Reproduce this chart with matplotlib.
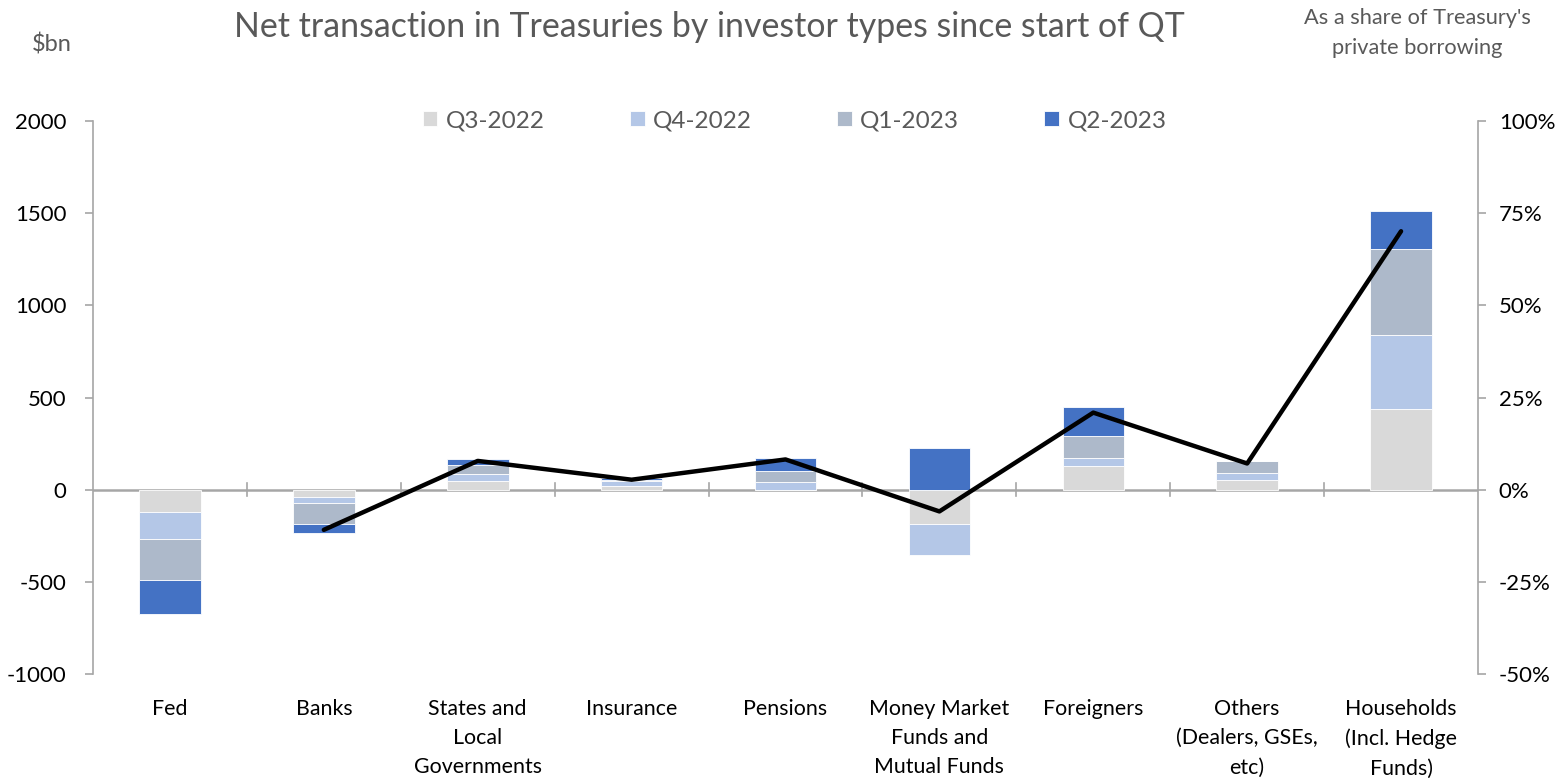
import matplotlib
matplotlib.use("Agg")
import matplotlib.pyplot as plt
import numpy as np

categories = ["Fed", "Banks", "States and\nLocal\nGovernments", "Insurance", "Pensions",
              "Money Market\nFunds and\nMutual Funds", "Foreigners",
              "Others\n(Dealers, GSEs,\netc)", "Households\n(Incl. Hedge\nFunds)"]
series_names = ["Q3-2022", "Q4-2022", "Q1-2023", "Q2-2023"]
q3_2022 = [-120, -38, 47, 18, 0, -188, 127, 54, 440]
q4_2022 = [-145, -36, 36, 29, 42, -167, 47, 34, 398]
q1_2023 = [-226, -112, 50, 7, 60, 0, 116, 65, 465]
q2_2023 = [-181, -51, 31, 7, 72, 226, 159, 0, 210]
share_pct = [np.nan, -10.9, 7.8, 2.7, 8.2, -5.9, 20.9, 7.1, 70.1]
left_ticks = [-1000, -500, 0, 500, 1000, 1500, 2000]
right_ticks = [-50, -25, 0, 25, 50, 75, 100]

colors = ["#D9D9D9", "#B4C7E7", "#ADB9CA", "#4472C4"]
FONT = "Lato"
plt.rcParams['font.family'] = [FONT, 'DejaVu Sans']

fig = plt.figure(figsize=(15.62, 7.78), dpi=100)
ax = fig.add_axes([93/1562, 1-674/778, (1478-93)/1562, (674-121)/778])
x = np.arange(len(categories))
pos_base = np.zeros(len(categories))
neg_base = np.zeros(len(categories))
for name, vals, c in zip(series_names, [q3_2022, q4_2022, q1_2023, q2_2023], colors):
    v = np.array(vals, dtype=float)
    bottoms = np.where(v >= 0, pos_base, neg_base)
    ax.bar(x, v, 0.4, bottom=bottoms, color=c, label=name, edgecolor="white", linewidth=0.6, zorder=2)
    pos_base += np.where(v > 0, v, 0)
    neg_base += np.where(v < 0, v, 0)

ax.set_xlim(-0.5, len(categories) - 0.5)
ax.set_ylim(-1000, 2000)
ax.set_yticks(left_ticks)
ax.set_yticklabels([str(t) for t in left_ticks], fontsize=16)
for s in ["top", "right", "bottom"]:
    ax.spines[s].set_visible(False)
ax.spines["left"].set_color("#A6A6A6")
ax.spines["left"].set_linewidth(1.2)
ax.tick_params(axis="y", colors="#A6A6A6", labelcolor="black", length=6, width=1.2, pad=13)
ax.set_xticks([])
ax.axhline(0, color="#A6A6A6", lw=1.8, zorder=1)
for b in np.arange(0.5, len(categories) - 0.5, 1.0):
    ax.plot([b, b], [-35, 35], color="#A6A6A6", lw=1.2, zorder=1)
for i, lab in enumerate(categories):
    ax.text(x[i], -1135, lab, ha="center", va="top", fontsize=15.4, linespacing=1.58)

ax2 = ax.twinx()
ax2.set_ylim(-50, 100)
ax2.plot(x, share_pct, color="black", lw=3.2, zorder=3, solid_capstyle="round")
ax2.set_yticks(right_ticks)
ax2.set_yticklabels([f"{t}%" for t in right_ticks], fontsize=16)
for s in ["top", "left", "bottom"]:
    ax2.spines[s].set_visible(False)
ax2.spines["right"].set_color("#A6A6A6")
ax2.spines["right"].set_linewidth(1.2)
ax2.tick_params(axis="y", colors="#A6A6A6", labelcolor="black", length=6, width=1.2, pad=9)

leg = ax.legend(loc="upper center", bbox_to_anchor=(0.5066, 1.059), ncol=4, frameon=False,
                fontsize=17.5, handlelength=0.6, handleheight=0.6, handletextpad=0.35,
                columnspacing=3.5)
for t in leg.get_texts():
    t.set_color("#595959")

fig.text(0.454, 1-27/778, "Net transaction in Treasuries by investor types since start of QT",
         ha="center", va="center", fontsize=24.4, color="#595959")
fig.text(52/1562, 1-45/778, "$bn", ha="center", va="center", fontsize=17, color="#595959")
fig.text(1417/1562, 1-33/778, "As a share of Treasury's\nprivate borrowing", ha="center",
         va="center", fontsize=15.7, color="#595959", linespacing=1.6)

fig.savefig("out.png", dpi=100)
